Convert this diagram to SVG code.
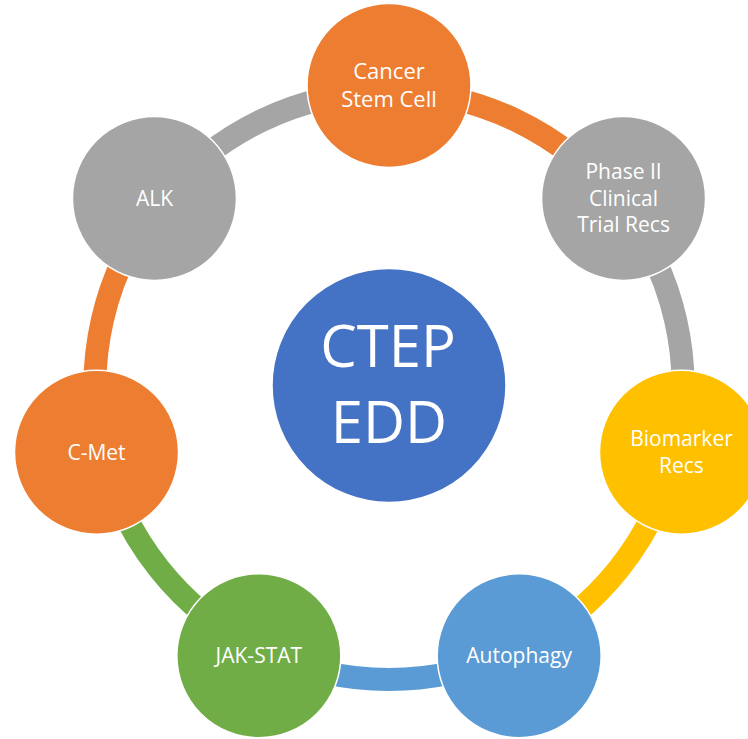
<svg xmlns="http://www.w3.org/2000/svg" width="748" height="739" viewBox="0 0 748 739">
  <style>
    .ring { fill: none; stroke-width: 23; stroke-linecap: butt; }
    .node { stroke: #FFFFFF; stroke-width: 1.5; }
    .label { font-family: "Open Sans", "Liberation Sans", sans-serif; fill: #FFFFFF; text-anchor: middle; font-size: 21px; }
    .big { font-size: 22px; }
    .hub { font-size: 58px; }
    .orange { fill: #ED7D31; }
    .gray { fill: #A5A5A5; }
    .yellow { fill: #FFC000; }
    .sky { fill: #5B9BD5; }
    .green { fill: #70AD47; }
    .blue { fill: #4472C4; }
  </style>

  <rect width="748" height="739" fill="#FFFFFF"/>

  <!-- Cycle bands: each runs clockwise from one node to the next, in the colour of its source node -->
  <g id="connectors">
    <path class="ring" stroke="#ED7D31" d="M389 91.5 A294 294 0 0 1 618.86 202.19"/>
    <path class="ring" stroke="#A5A5A5" d="M618.86 202.19 A294 294 0 0 1 675.63 450.92"/>
    <path class="ring" stroke="#FFC000" d="M675.63 450.92 A294 294 0 0 1 516.56 650.39"/>
    <path class="ring" stroke="#5B9BD5" d="M516.56 650.39 A294 294 0 0 1 261.44 650.39"/>
    <path class="ring" stroke="#70AD47" d="M261.44 650.39 A294 294 0 0 1 102.37 450.92"/>
    <path class="ring" stroke="#ED7D31" d="M102.37 450.92 A294 294 0 0 1 159.14 202.19"/>
    <path class="ring" stroke="#A5A5A5" d="M159.14 202.19 A294 294 0 0 1 389 91.5"/>
  </g>

  <g id="hub">
    <circle class="node blue" cx="389" cy="385.5" r="117"/>
    <text class="label hub" x="388" y="367.3">CTEP</text>
    <text class="label hub" x="389" y="442.7">EDD</text>
  </g>

  <g id="cancer-stem-cell">
    <circle class="node orange" cx="389" cy="85.5" r="82"/>
    <text class="label big" x="389" y="79">Cancer</text>
    <text class="label big" x="389" y="107.3">Stem Cell</text>
  </g>

  <g id="phase-ii">
    <circle class="node gray" cx="623.55" cy="198.45" r="82"/>
    <text class="label" x="623.55" y="179">Phase II</text>
    <text class="label" x="623.55" y="205.7">Clinical</text>
    <text class="label" x="623.55" y="231.7">Trial Recs</text>
  </g>

  <g id="biomarker">
    <circle class="node yellow" cx="681.48" cy="452.26" r="82"/>
    <text class="label" x="681.48" y="446">Biomarker</text>
    <text class="label" x="681.48" y="472.7">Recs</text>
  </g>

  <g id="autophagy">
    <circle class="node sky" cx="519.16" cy="655.79" r="82"/>
    <text class="label" x="519.16" y="663.3">Autophagy</text>
  </g>

  <g id="jak-stat">
    <circle class="node green" cx="258.84" cy="655.79" r="82"/>
    <text class="label" x="258.84" y="663.3">JAK-STAT</text>
  </g>

  <g id="c-met">
    <circle class="node orange" cx="96.52" cy="452.26" r="82"/>
    <text class="label" x="96.52" y="460">C-Met</text>
  </g>

  <g id="alk">
    <circle class="node gray" cx="154.45" cy="198.45" r="82"/>
    <text class="label" x="154.45" y="206">ALK</text>
  </g>
</svg>
